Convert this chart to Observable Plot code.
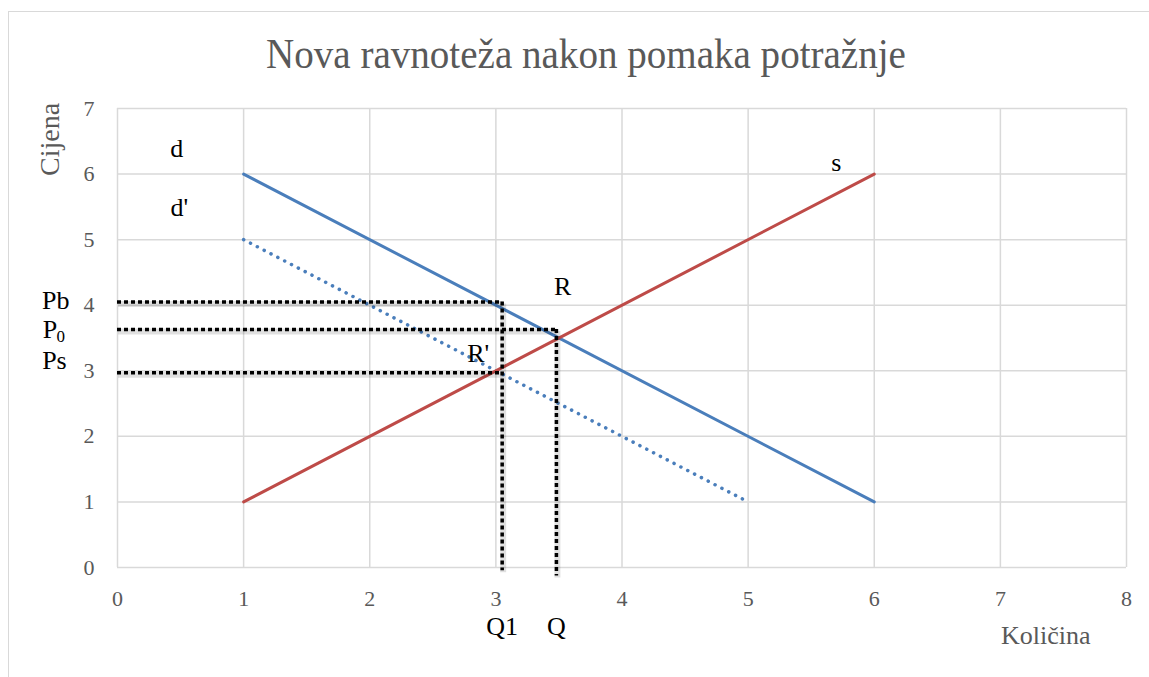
<!DOCTYPE html>
<html>
<head>
<meta charset="utf-8">
<script src="https://cdn.jsdelivr.net/npm/d3@7"></script>
<script src="https://cdn.jsdelivr.net/npm/@observablehq/plot@0.6"></script>
<style>
  html, body { margin: 0; padding: 0; background: #fff; }
  #wrap { position: relative; width: 1149px; height: 677px; overflow: hidden; }
  #frame { position: absolute; left: 8px; top: 11px; width: 1160px; height: 700px; border: 1px solid #d9d9d9; box-sizing: border-box; }
  #title { position: absolute; left: 0; top: 29px; width: 1172px; text-align: center; font-family: "Liberation Serif", serif; font-size: 42px; line-height: 50px; color: #595959; transform: scaleX(0.93); transform-origin: 586px 0; }
  #chart { position: absolute; left: 0; top: 0; }
</style>
</head>
<body>
<div id="wrap">
  <div id="frame"></div>
  <div id="title">Nova ravnoteža nakon pomaka potražnje</div>
  <div id="chart"></div>
</div>
<script>
// Demand d (solid blue)
const demandQ = [1, 6];
const demandP = [6, 1];
// Shifted demand d' (dotted blue)
const demand2Q = [1, 5];
const demand2P = [5, 1];
// Supply s (red)
const supplyQ = [1, 6];
const supplyP = [1, 6];
// Price guide levels
const priceNames = ["Pb", "P0", "Ps"];
const priceLevels = [4.05, 3.63, 2.97];
const priceEndQ = [3.05, 3.48, 3.05];
// Quantity guide levels
const qtyNames = ["Q1", "Q"];
const qtyLevels = [3.05, 3.48];
const qtyTopP = [4.05, 3.63];
const qtyBottomP = [-0.05, -0.13];
// Axis ticks
const xTicks = [0, 1, 2, 3, 4, 5, 6, 7, 8];
const yTicks = [0, 1, 2, 3, 4, 5, 6, 7];
// Annotation labels
const labelText = ["d", "d'", "s", "R", "R'", "Pb", "P", "Ps", "Q1", "Q"];
const labelQ = [0.47, 0.49, 5.70, 3.53, 2.86, -0.49, -0.535, -0.50, 3.05, 3.48];
const labelP = [6.38, 5.49, 6.17, 4.28, 3.26, 4.07, 3.62, 3.16, -0.90, -0.90];
// Subscript parts
const subText = ["0"];
const subQ = [-0.45];
const subP = [3.52];

const line = (qs, ps) => qs.map((q, i) => ({q, p: ps[i]}));
const dLine = line(demandQ, demandP);
const d2Line = line(demand2Q, demand2P);
const sLine = line(supplyQ, supplyP);
const hGuides = priceNames.map((n, i) => ({x1: 0, x2: priceEndQ[i], y: priceLevels[i]}));
const vGuides = qtyNames.map((n, i) => ({x: qtyLevels[i], y1: qtyTopP[i], y2: qtyBottomP[i]}));
const labels = labelText.map((t, i) => ({t, q: labelQ[i], p: labelP[i]}));
const subs = subText.map((t, i) => ({t, q: subQ[i], p: subP[i]}));

const guideStyle = {stroke: "#000", strokeWidth: 3.5, strokeDasharray: "4,3"};
const shadowStyle = {stroke: "#000", strokeOpacity: 0.12, strokeWidth: 6, dx: 1, dy: 2};

const chart = Plot.plot({
  width: 1149,
  height: 677,
  marginLeft: 117,
  marginRight: 23,
  marginTop: 108,
  marginBottom: 110,
  style: {fontFamily: "Liberation Serif, serif", background: "transparent", overflow: "visible"},
  x: {domain: [0, 8], axis: null},
  y: {domain: [0, 7], axis: null},
  marks: [
    Plot.gridX(xTicks, {stroke: "#d9d9d9", strokeOpacity: 1, strokeWidth: 1.5}),
    Plot.gridY(yTicks, {stroke: "#d9d9d9", strokeOpacity: 1, strokeWidth: 1.5}),
    Plot.text(xTicks, {x: d => d, frameAnchor: "bottom", dy: 31, lineAnchor: "middle", text: d => String(d), fontSize: 22, fill: "#595959"}),
    Plot.text(yTicks, {y: d => d, frameAnchor: "left", dx: -23, textAnchor: "end", lineAnchor: "middle", text: d => String(d), fontSize: 22, fill: "#595959"}),
    Plot.line(d2Line, {x: "q", y: "p", stroke: "#4a7ebb", strokeWidth: 3.5, strokeDasharray: "0.1,7.6", strokeLinecap: "round"}),
    Plot.line(dLine, {x: "q", y: "p", stroke: "#4a7ebb", strokeWidth: 3}),
    Plot.line(sLine, {x: "q", y: "p", stroke: "#be4b48", strokeWidth: 3}),
    Plot.ruleY(hGuides, {x1: "x1", x2: "x2", y: "y", ...shadowStyle}),
    Plot.ruleX(vGuides, {x: "x", y1: "y1", y2: "y2", ...shadowStyle}),
    Plot.ruleY(hGuides, {x1: "x1", x2: "x2", y: "y", ...guideStyle}),
    Plot.ruleX(vGuides, {x: "x", y1: "y1", y2: "y2", ...guideStyle}),
    Plot.text(labels, {x: "q", y: "p", text: "t", fontSize: 26, fill: "#000"}),
    Plot.text(subs, {x: "q", y: "p", text: "t", fontSize: 17, fill: "#000"}),
    Plot.text(["Cijena"], {frameAnchor: "left", dx: -67, dy: -162, rotate: -90, fontSize: 28, fill: "#595959"}),
    Plot.text(["Količina"], {frameAnchor: "bottom-right", dx: -36, dy: 76, fontSize: 26, fill: "#595959"})
  ]
});
document.getElementById("chart").appendChild(chart);
</script>
</body>
</html>
